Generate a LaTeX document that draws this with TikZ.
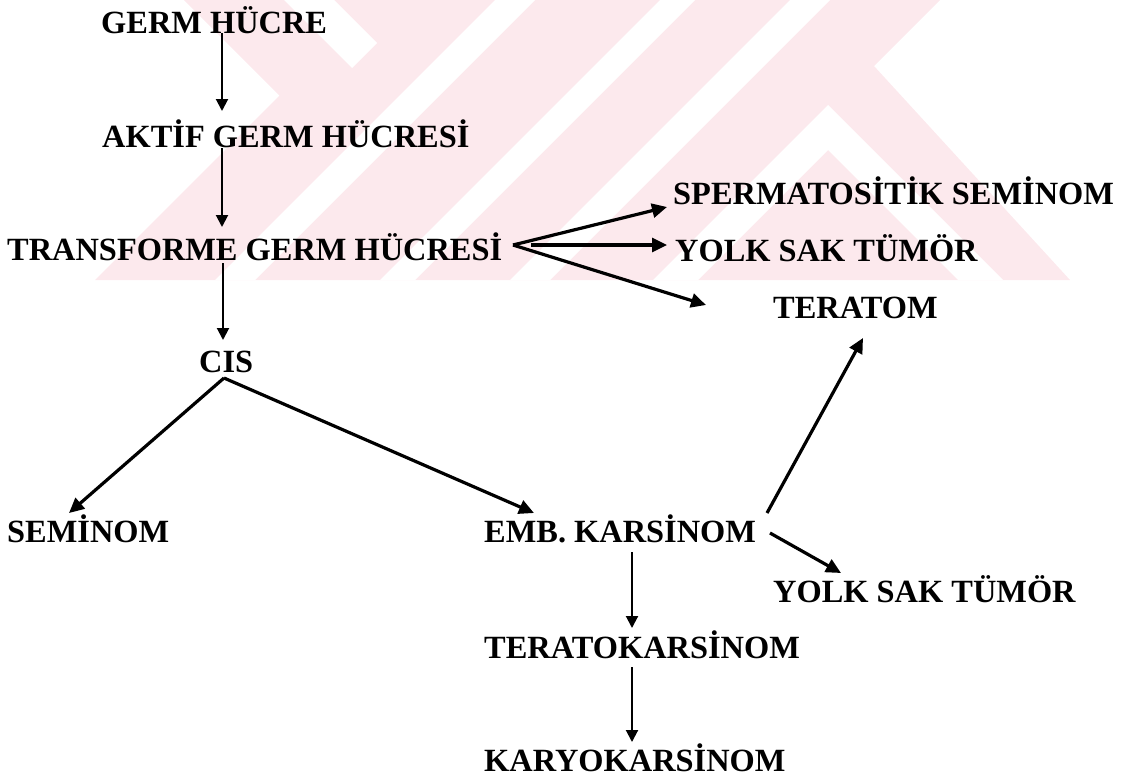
\documentclass[tikz,border=0pt]{standalone}
\usepackage{fontspec}
\setmainfont{Liberation Serif}
\usetikzlibrary{arrows.meta,calc}
\definecolor{wmpink}{RGB}{252,233,237}
\tikzset{
  lbl/.style={anchor=base west,inner sep=0pt,font=\fontsize{32.4}{38}\selectfont\bfseries},
  thinarr/.style={line width=2pt,-{Triangle[length=12pt,width=12pt]}},
  thickarr/.style={line width=3.2pt,-{Triangle[length=15pt,width=14pt]}},
  wm/.style={fill=wmpink,draw=none},
  wmgap/.style={fill=white,draw=none}
}
\begin{document}
\begin{tikzpicture}[x=1pt,y=-1pt]
\useasboundingbox (0,0) rectangle (1127,777);
% watermark
\fill[wm] (184,0) -- (940,0) -- (874,66) -- (1070,280) -- (95,280) -- (279.5,95.5) -- cycle;
\fill[wmgap] (284,0) -- (334,0) -- (377,43) -- (352,68) -- cycle;
\fill[wmgap] (215,280) -- (255,280) -- (535,0) -- (495,0) -- cycle;
\fill[wmgap] (380,280) -- (415,280) -- (695,0) -- (660,0) -- cycle;
\fill[wmgap] (510,280) -- (550,280) -- (830,0) -- (790,0) -- cycle;
\fill[wmgap] (653,280) -- (828,105) -- (1003,280) -- (958,280) -- (828,150) -- (698,280) -- cycle;
% labels
\node[lbl] (gh)  at (101,33)  {GERM HÜCRE};
\node[lbl] (ak)  at (102,147) {AKTİF GERM HÜCRESİ};
\node[lbl] (tg)  at (7,260)   {TRANSFORME GERM HÜCRESİ};
\node[lbl] (sp)  at (673,204) {SPERMATOSİTİK SEMİNOM};
\node[lbl] (ys1) at (675,261) {YOLK SAK TÜMÖR};
\node[lbl] (te)  at (773,318) {TERATOM};
\node[lbl] (cis) at (199,372) {CIS};
\node[lbl] (se)  at (7,542)   {SEMİNOM};
\node[lbl] (emb) at (484,542) {EMB. KARSİNOM};
\node[lbl] (ys2) at (773,602) {YOLK SAK TÜMÖR};
\node[lbl] (tk)  at (484,658) {TERATOKARSİNOM};
\node[lbl] (kk)  at (484,771) {KARYOKARSİNOM};
% connectors
\draw[thinarr] ($(gh.base west)+(121,0)$) -- ($(ak.base west)+(120,-36)$);
\draw[thinarr] ($(ak.base west)+(120,1)$) -- ($(tg.base west)+(215,-33)$);
\draw[thinarr] ($(tg.base west)+(216,3)$) -- ($(cis.base west)+(24,-32)$);
\draw[thickarr] ($(tg.base west)+(506,-15)$) -- ($(sp.base west)+(-6,3)$);
\draw[thickarr] ($(tg.base west)+(524,-15)$) -- ($(ys1.base west)+(-8,-16)$);
\draw[thickarr] ($(tg.base west)+(506,-15)$) -- ($(te.base west)+(-67,-13)$);
\draw[thickarr] ($(cis.base west)+(25,6)$) -- ($(se.base west)+(62,-29)$);
\draw[thickarr] ($(cis.base west)+(25,6)$) -- ($(emb.base west)+(50,-29)$);
\draw[thickarr] ($(emb.base west)+(283,-29)$) -- ($(te.base west)+(90,20)$);
\draw[thickarr] ($(emb.base west)+(286,-9)$) -- ($(ys2.base west)+(68,-29)$);
\draw[thinarr] ($(emb.base west)+(148,10)$) -- ($(tk.base west)+(148,-30)$);
\draw[thinarr] ($(tk.base west)+(148,9)$) -- ($(kk.base west)+(148,-29)$);
\end{tikzpicture}
\end{document}
